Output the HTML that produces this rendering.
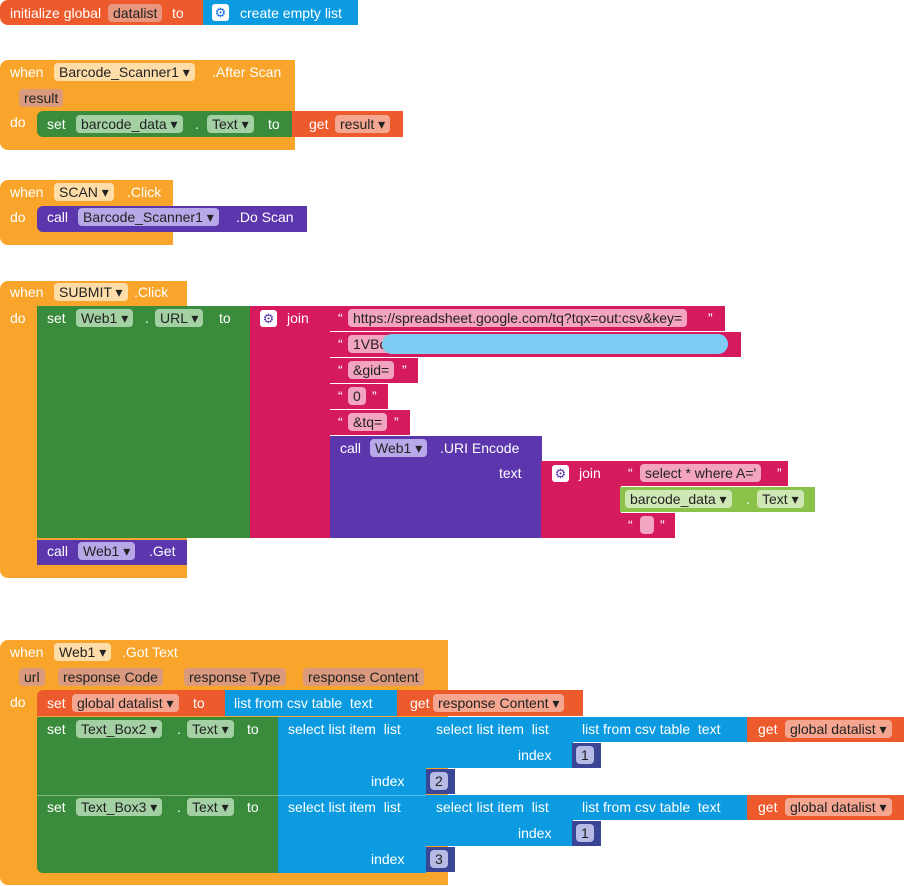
<!DOCTYPE html>
<html><head><meta charset="utf-8"><style>
body{margin:0;width:904px;height:886px;background:#fff;position:relative;overflow:hidden;font-family:"Liberation Sans",sans-serif;font-size:14px;color:#fff}
div,span{position:absolute;box-sizing:border-box}
.t{line-height:18px;white-space:nowrap}
.p{line-height:18px;height:18px;border-radius:4px;padding:0 5px;white-space:nowrap;color:#222}
.o{background:#F9A52B}.r{background:#ED5A2C}.bl{background:#0C9BE0}.g{background:#3A8C3C}.pk{background:#D61A5E}.pu{background:#5B36AD}.lg{background:#8BC34A}.nv{background:#3A4596}
.po{background:#FFDDA8}.pr{background:#F5A690}.pg{background:#A3D1A4}.pp{background:#F3A4C0}.pv{background:#B8A8E8}.pl{background:#CFE7B4}.pn{background:#B6BBE6}
.gear{width:17px;height:17px;border-radius:3px;background:#fff;color:#5B36AD;font-size:13px;line-height:17px;text-align:center}
.sep{border-top:1px solid rgba(255,255,255,.35)}
</style></head><body>

<!-- init global -->
<div class="r" style="left:0;top:0;width:205px;height:25px;border-radius:8px 0 0 8px"></div>
<span class="t" style="left:10px;top:4px">initialize global</span>
<span class="p" style="left:108px;top:4px;background:#E8967E">datalist</span>
<span class="t" style="left:172px;top:4px">to</span>
<div class="bl" style="left:203px;top:0;width:155px;height:25px"></div>
<span class="gear" style="left:212px;top:4px;color:#0C6BE0">⚙</span>
<span class="t" style="left:240px;top:4px">create empty list</span>

<!-- After Scan -->
<div class="o" style="left:0;top:60px;width:295px;height:90px;border-radius:8px 0 0 8px"></div>
<span class="t" style="left:10px;top:63px">when</span>
<span class="p po" style="left:54px;top:63px">Barcode_Scanner1 ▾</span>
<span class="t" style="left:212px;top:63px">.After Scan</span>
<span class="p" style="left:19px;top:89px;background:#D99A7E">result</span>
<span class="t" style="left:10px;top:113px">do</span>
<div class="g" style="left:37px;top:111px;width:260px;height:26px;border-radius:6px 0 0 6px"></div>
<span class="t" style="left:47px;top:115px">set</span>
<span class="p pg" style="left:76px;top:115px">barcode_data ▾</span>
<span class="t" style="left:195px;top:115px">.</span>
<span class="p pg" style="left:207px;top:115px">Text ▾</span>
<span class="t" style="left:268px;top:115px">to</span>
<div class="r" style="left:292px;top:111px;width:111px;height:26px"></div>
<span class="t" style="left:309px;top:115px">get</span>
<span class="p pr" style="left:335px;top:115px">result ▾</span>

<!-- SCAN -->
<div class="o" style="left:0;top:180px;width:173px;height:65px;border-radius:8px 0 0 8px"></div>
<span class="t" style="left:10px;top:183px">when</span>
<span class="p po" style="left:54px;top:183px">SCAN ▾</span>
<span class="t" style="left:127px;top:183px">.Click</span>
<span class="t" style="left:10px;top:208px">do</span>
<div class="pu" style="left:37px;top:206px;width:270px;height:26px;border-radius:6px 0 0 6px"></div>
<span class="t" style="left:47px;top:208px">call</span>
<span class="p pv" style="left:78px;top:208px">Barcode_Scanner1 ▾</span>
<span class="t" style="left:236px;top:208px">.Do Scan</span>

<!-- SUBMIT -->
<div class="o" style="left:0;top:281px;width:187px;height:297px;border-radius:8px 0 0 8px"></div>
<span class="t" style="left:10px;top:283px">when</span>
<span class="p po" style="left:54px;top:283px">SUBMIT ▾</span>
<span class="t" style="left:134px;top:283px">.Click</span>
<span class="t" style="left:10px;top:309px">do</span>
<div class="g" style="left:37px;top:306px;width:214px;height:232px"></div>
<span class="t" style="left:47px;top:309px">set</span>
<span class="p pg" style="left:76px;top:309px">Web1 ▾</span>
<span class="t" style="left:145px;top:309px">.</span>
<span class="p pg" style="left:155px;top:309px">URL ▾</span>
<span class="t" style="left:219px;top:309px">to</span>
<div class="pk" style="left:250px;top:306px;width:80px;height:232px"></div>
<span class="gear" style="left:260px;top:310px">⚙</span>
<span class="t" style="left:287px;top:309px">join</span>
<div class="pk" style="left:330px;top:306px;width:395px;height:25px"></div>
<span class="t" style="left:338px;top:309px">“</span>
<span class="p pp" style="left:348px;top:309px">https://spreadsheet.google.com/tq?tqx=out:csv&amp;key=</span>
<span class="t" style="left:708px;top:309px">”</span>
<div class="pk" style="left:330px;top:332px;width:411px;height:25px"></div>
<span class="t" style="left:338px;top:335px">“</span>
<span class="p pp" style="left:348px;top:335px;width:370px">1VBc</span>
<div style="left:382px;top:334px;width:346px;height:20px;background:#7FCDF5;border-radius:10px"></div>
<div class="pk" style="left:330px;top:358px;width:88px;height:25px"></div>
<span class="t" style="left:338px;top:361px">“</span>
<span class="p pp" style="left:348px;top:361px">&amp;gid=</span>
<span class="t" style="left:402px;top:361px">”</span>
<div class="pk" style="left:330px;top:384px;width:58px;height:25px"></div>
<span class="t" style="left:338px;top:387px">“</span>
<span class="p pp" style="left:348px;top:387px">0</span>
<span class="t" style="left:372px;top:387px">”</span>
<div class="pk" style="left:330px;top:410px;width:80px;height:25px"></div>
<span class="t" style="left:338px;top:413px">“</span>
<span class="p pp" style="left:348px;top:413px">&amp;tq=</span>
<span class="t" style="left:394px;top:413px">”</span>
<div class="pu" style="left:330px;top:436px;width:212px;height:102px"></div>
<span class="t" style="left:340px;top:439px">call</span>
<span class="p pv" style="left:370px;top:439px">Web1 ▾</span>
<span class="t" style="left:440px;top:439px">.URI Encode</span>
<span class="t" style="left:499px;top:464px">text</span>
<div class="pk" style="left:541px;top:461px;width:80px;height:77px"></div>
<span class="gear" style="left:552px;top:465px">⚙</span>
<span class="t" style="left:579px;top:464px">join</span>
<div class="pk" style="left:620px;top:461px;width:168px;height:25px"></div>
<span class="t" style="left:628px;top:464px">“</span>
<span class="p pp" style="left:640px;top:464px">select * where A='</span>
<span class="t" style="left:777px;top:464px">”</span>
<div class="lg" style="left:620px;top:487px;width:195px;height:25px"></div>
<span class="p pl" style="left:625px;top:490px">barcode_data ▾</span>
<span class="t" style="left:746px;top:490px">.</span>
<span class="p pl" style="left:757px;top:490px">Text ▾</span>
<div class="pk" style="left:620px;top:513px;width:55px;height:25px"></div>
<span class="t" style="left:628px;top:516px">“</span>
<span class="p pp" style="left:640px;top:516px;width:14px"></span>
<span class="t" style="left:660px;top:516px">”</span>
<div class="pu" style="left:37px;top:540px;width:150px;height:25px"></div>
<span class="t" style="left:47px;top:542px">call</span>
<span class="p pv" style="left:78px;top:542px">Web1 ▾</span>
<span class="t" style="left:149px;top:542px">.Get</span>

<!-- Got Text -->
<div class="o" style="left:0;top:640px;width:448px;height:245px;border-radius:8px 0 0 8px"></div>
<span class="t" style="left:10px;top:643px">when</span>
<span class="p po" style="left:54px;top:643px">Web1 ▾</span>
<span class="t" style="left:122px;top:643px">.Got Text</span>
<span class="p" style="left:19px;top:668px;background:#D99A7E">url</span>
<span class="p" style="left:58px;top:668px;background:#D99A7E">response Code</span>
<span class="p" style="left:184px;top:668px;background:#D99A7E">response Type</span>
<span class="p" style="left:303px;top:668px;background:#D99A7E">response Content</span>
<span class="t" style="left:10px;top:693px">do</span>
<div class="r" style="left:37px;top:690px;width:190px;height:26px;border-radius:6px 0 0 0"></div>
<span class="t" style="left:47px;top:694px">set</span>
<span class="p pr" style="left:72px;top:694px">global datalist ▾</span>
<span class="t" style="left:193px;top:694px">to</span>
<div class="bl" style="left:225px;top:690px;width:173px;height:26px"></div>
<span class="t" style="left:234px;top:694px">list from csv table &nbsp;text</span>
<div class="r" style="left:397px;top:690px;width:186px;height:26px"></div>
<span class="t" style="left:410px;top:694px">get</span>
<span class="p pr" style="left:433px;top:694px">response Content ▾</span>

<div class="g" style="left:37px;top:717px;width:242px;height:156px;border-radius:0 0 0 6px"></div>
<div class="bl" style="left:278px;top:717px;width:148px;height:156px"></div>
<div class="sep" style="left:37px;top:795px;width:389px;height:1px"></div>

<!-- row 1 -->
<span class="t" style="left:47px;top:720px">set</span>
<span class="p pg" style="left:76px;top:720px">Text_Box2 ▾</span>
<span class="t" style="left:177px;top:720px">.</span>
<span class="p pg" style="left:187px;top:720px">Text ▾</span>
<span class="t" style="left:247px;top:720px">to</span>
<span class="t" style="left:288px;top:720px">select list item &nbsp;list</span>
<div class="bl" style="left:426px;top:717px;width:147px;height:51px"></div>
<span class="t" style="left:436px;top:720px">select list item &nbsp;list</span>
<span class="t" style="left:518px;top:746px">index</span>
<div class="nv" style="left:572px;top:743px;width:29px;height:25px"></div>
<span class="p pn" style="left:576px;top:746px">1</span>
<div class="bl" style="left:572px;top:717px;width:176px;height:25px"></div>
<span class="t" style="left:582px;top:720px">list from csv table &nbsp;text</span>
<div class="r" style="left:747px;top:717px;width:157px;height:25px"></div>
<span class="t" style="left:758px;top:720px">get</span>
<span class="p pr" style="left:785px;top:720px">global datalist ▾</span>
<span class="t" style="left:371px;top:772px">index</span>
<div class="nv" style="left:426px;top:769px;width:29px;height:25px"></div>
<span class="p pn" style="left:430px;top:772px">2</span>

<!-- row 2 -->
<span class="t" style="left:47px;top:798px">set</span>
<span class="p pg" style="left:76px;top:798px">Text_Box3 ▾</span>
<span class="t" style="left:177px;top:798px">.</span>
<span class="p pg" style="left:187px;top:798px">Text ▾</span>
<span class="t" style="left:247px;top:798px">to</span>
<span class="t" style="left:288px;top:798px">select list item &nbsp;list</span>
<div class="bl" style="left:426px;top:795px;width:147px;height:51px"></div>
<span class="t" style="left:436px;top:798px">select list item &nbsp;list</span>
<span class="t" style="left:518px;top:824px">index</span>
<div class="nv" style="left:572px;top:821px;width:29px;height:25px"></div>
<span class="p pn" style="left:576px;top:824px">1</span>
<div class="bl" style="left:572px;top:795px;width:176px;height:25px"></div>
<span class="t" style="left:582px;top:798px">list from csv table &nbsp;text</span>
<div class="r" style="left:747px;top:795px;width:157px;height:25px"></div>
<span class="t" style="left:758px;top:798px">get</span>
<span class="p pr" style="left:785px;top:798px">global datalist ▾</span>
<span class="t" style="left:371px;top:850px">index</span>
<div class="nv" style="left:426px;top:847px;width:29px;height:25px"></div>
<span class="p pn" style="left:430px;top:850px">3</span>

</body></html>
